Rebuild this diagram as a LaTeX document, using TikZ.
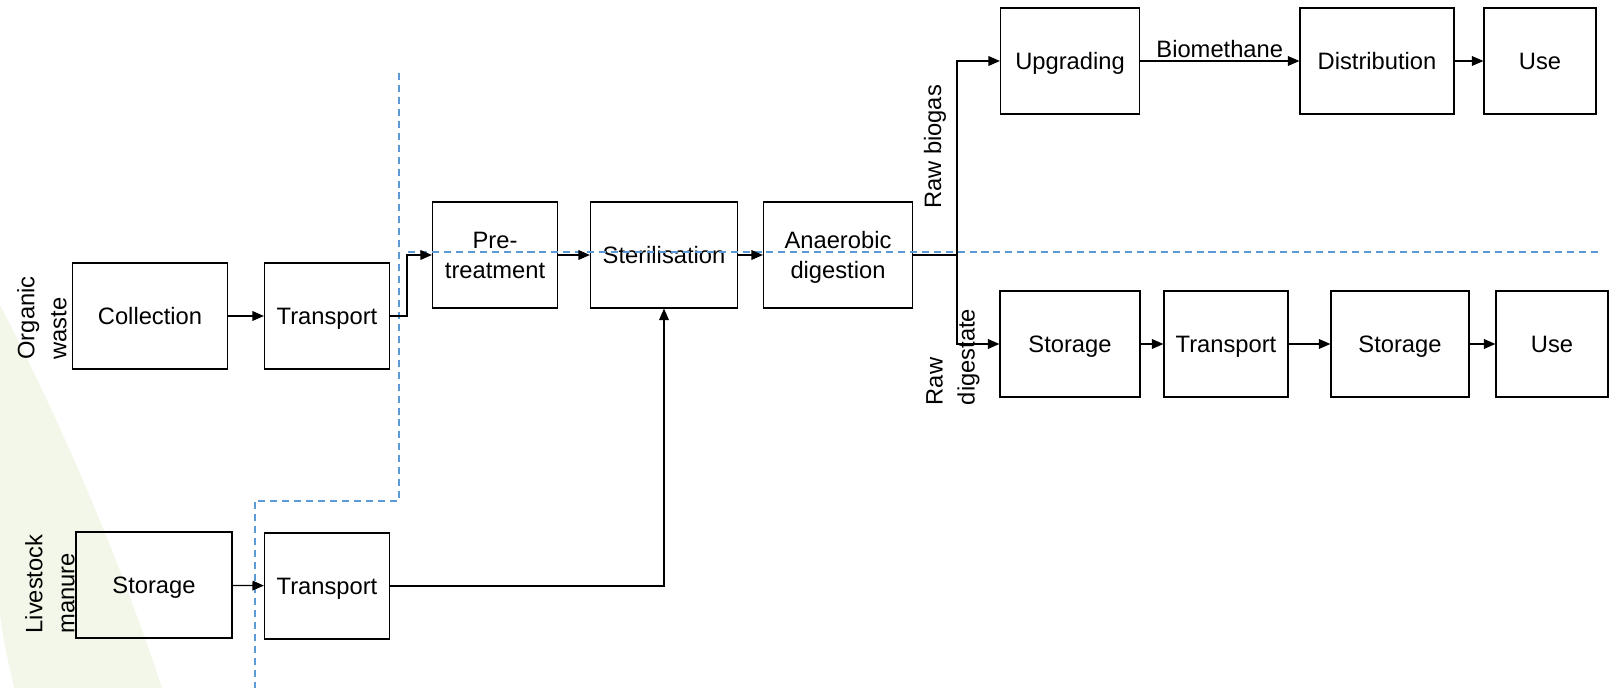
\documentclass[tikz,border=0pt]{standalone}
\usepackage{fontspec}
\setmainfont{Liberation Sans}
\usetikzlibrary{arrows.meta}
\definecolor{splitblue}{RGB}{91,155,213}
\definecolor{leafgreen}{RGB}{243,247,233}
\newcommand{\boxstrut}{\rule[-2.9pt]{0pt}{15.1pt}}

\begin{document}
\begin{tikzpicture}[
    x=0.02cm, y=-0.02cm,
    box/.style={rectangle, draw, line width=0.7pt, minimum height=2.12cm, inner sep=0pt, align=center,
        font=\fontsize{13.5}{18.2}\selectfont, execute at begin node=\boxstrut, execute at end node=\boxstrut},
    twoline/.style={box, font=\fontsize{13.5}{17}\selectfont, text depth=-0.5pt},
    sidelabel/.style={rotate=90, align=left, inner sep=0pt, font=\fontsize{13.5}{18.2}\selectfont},
    arrow/.style={-{Triangle[length=6.5pt,width=5.5pt]}, line width=0.7pt},
    line/.style={line width=0.7pt},
    boundary/.style={draw=splitblue, line width=0.75pt, dash pattern=on 4pt off 2.8pt}
]
    \useasboundingbox (0,0) rectangle (1619,688);

    % Background swoosh
    \fill[leafgreen] (0,305) .. controls (60,420) and (120,560) .. (162,688)
        -- (14,688) .. controls (8,660) and (3,640) .. (0,615) -- cycle;

    % Feedstocks
    \node[sidelabel] (organic) at (42,318) {Organic\\waste};
    \node[box, minimum width=3.1cm] (collect) at (150,316) {Collection};
    \node[box, minimum width=2.5cm] (trans1) at (327,316) {Transport};
    \node[sidelabel] (livestock) at (50,584) {Livestock\\manure};
    \node[box, minimum width=3.12cm] (storeman) at (154,585) {Storage};
    \node[box, minimum width=2.5cm] (transman) at (327,586) {Transport};

    % Plant
    \node[twoline, minimum width=2.5cm] (pretreat) at (495,255) {Pre-\\treatment};
    \node[box, minimum width=2.94cm] (steril) at (664,255) {Sterilisation};
    \node[twoline, minimum width=2.98cm] (anaer) at (838,255) {Anaerobic\\digestion};
    \coordinate (split) at (957,255);

    % Biogas line
    \node[sidelabel] (biogas) at (935,147) {Raw biogas};
    \node[box, minimum width=2.78cm] (upgrade) at (1070,61) {Upgrading};
    \node[box, minimum width=3.08cm] (distrib) at (1377,61) {Distribution};
    \node[box, minimum width=2.24cm] (usegas) at (1540,61) {Use};

    % Digestate line
    \node[sidelabel] (digestate) at (953,357) {Raw\\digestate};
    \node[box, minimum width=2.8cm] (storedig) at (1070,344) {Storage};
    \node[box, minimum width=2.48cm] (transdig) at (1226,344) {Transport};
    \node[box, minimum width=2.76cm] (storedig2) at (1400,344) {Storage};
    \node[box, minimum width=2.24cm] (usedig) at (1552,344) {Use};

    % Boundaries
    \coordinate (bTop) at (399,73);
    \coordinate (bStep) at (399,501);
    \coordinate (bLow) at (255,501);
    \coordinate (bEnd) at (255,688);
    \coordinate (hStart) at (408,252);
    \coordinate (hEnd) at (1598,252);
    \draw[boundary] (bTop) -- (bStep) -- (bLow) -- (bEnd);
    \draw[boundary] (hStart) -- (hEnd);

    % Arrows
    \draw[arrow] (collect) -- (trans1);
    \draw[arrow] (storeman) -- (transman);
    \draw[arrow] (trans1.east) -- ++(17,0) |- (pretreat.west);
    \draw[arrow] (transman.east) -| (steril.south);
    \draw[arrow] (pretreat) -- (steril);
    \draw[arrow] (steril) -- (anaer);
    \draw[line] (anaer.east) -- (split);
    \draw[arrow] (split) |- (upgrade.west);
    \draw[arrow] (split) |- (storedig.west);
    \draw[arrow] (upgrade) -- node[above, inner sep=1.5pt, font=\fontsize{13.5}{18.2}\selectfont] {Biomethane} (distrib);
    \draw[arrow] (distrib) -- (usegas);
    \draw[arrow] (storedig) -- (transdig);
    \draw[arrow] (transdig) -- (storedig2);
    \draw[arrow] (storedig2) -- (usedig);
\end{tikzpicture}
\end{document}
